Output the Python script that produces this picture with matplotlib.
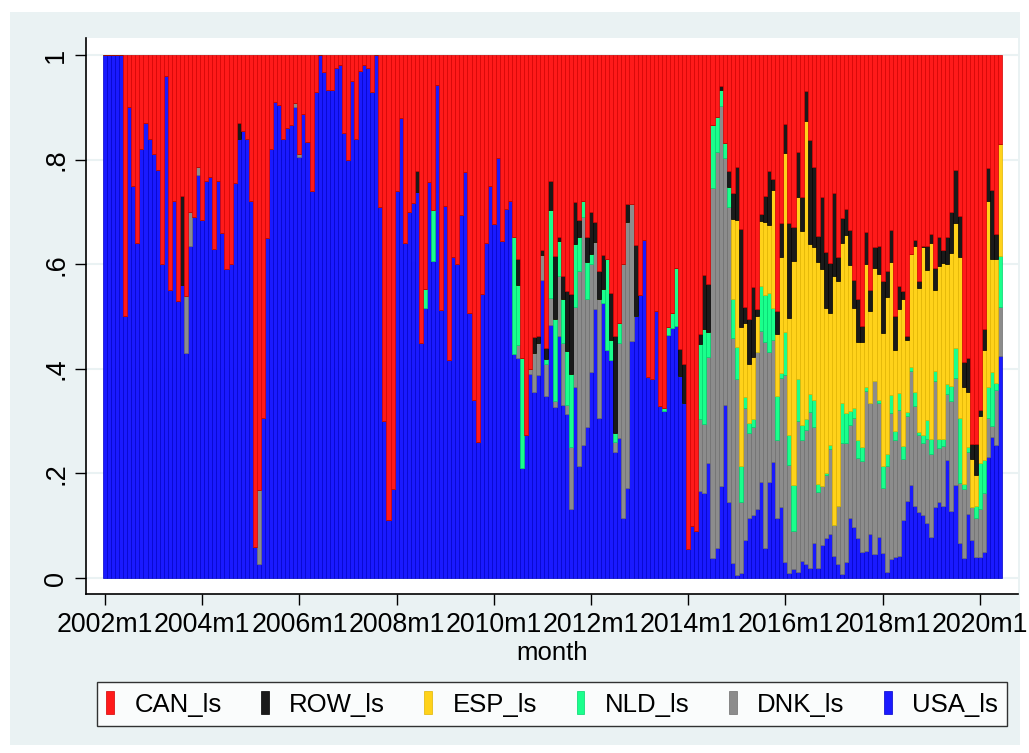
import numpy as np
import matplotlib.pyplot as plt
from matplotlib.patches import Rectangle

# --- upper edge of each stacked band (cumulative share), 2002m1 .. 2020m6 --- #
# one row per year; CAN fills the rest up to 1
usa_cum = [
    1.0, 1.0, 1.0, 1.0, 1.0, 0.50, 0.90, 0.75, 0.64, 0.82, 0.87, 0.84,
    0.81, 0.78, 0.60, 0.96, 0.55, 0.72, 0.53, 0.56, 0.43, 0.635, 0.69, 0.77,
    0.685, 0.76, 0.766, 0.63, 0.76, 0.66, 0.59, 0.60, 0.755, 0.84, 0.854, 0.84,
    0.72, 0.06, 0.027, 0.306, 0.65, 0.82, 0.91, 0.905, 0.84, 0.86, 0.866, 0.90,
    0.805, 0.888, 0.833, 0.74, 0.93, 1.0, 0.968, 0.933, 0.933, 0.976, 0.98, 0.85,
    0.80, 0.95, 0.84, 0.97, 0.98, 0.976, 0.93, 1.0, 0.71, 0.30, 0.11, 0.17,
    0.74, 0.88, 0.64, 0.70, 0.717, 0.739, 0.45, 0.516, 0.757, 0.607, 0.942, 0.513,
    0.712, 0.417, 0.613, 0.60, 0.694, 0.776, 0.507, 0.34, 0.26, 0.543, 0.64, 0.75,
    0.676, 0.804, 0.645, 0.706, 0.72, 0.429, 0.42, 0.21, 0.273, 0.39, 0.356, 0.388,
    0.57, 0.348, 0.484, 0.327, 0.463, 0.33, 0.314, 0.132, 0.366, 0.214, 0.255, 0.288,
    0.394, 0.515, 0.306, 0.526, 0.435, 0.416, 0.24, 0.267, 0.114, 0.172, 0.454, 0.50,
    0.542, 0.647, 0.385, 0.38, 0.51, 0.328, 0.32, 0.464, 0.478, 0.482, 0.387, 0.335,
    0.056, 0.10, 0.09, 0.166, 0.163, 0.22, 0.038, 0.058, 0.176, 0.33, 0.145, 0.029,
    0.005, 0.009, 0.073, 0.114, 0.12, 0.132, 0.183, 0.057, 0.183, 0.222, 0.115, 0.136,
    0.03, 0.01, 0.017, 0.011, 0.032, 0.027, 0.02, 0.066, 0.02, 0.063, 0.077, 0.084,
    0.042, 0.027, 0.007, 0.03, 0.115, 0.097, 0.076, 0.049, 0.051, 0.084, 0.046, 0.078,
    0.047, 0.012, 0.036, 0.04, 0.042, 0.11, 0.148, 0.177, 0.138, 0.126, 0.12, 0.106,
    0.079, 0.136, 0.145, 0.138, 0.226, 0.128, 0.177, 0.066, 0.039, 0.122, 0.073, 0.041,
    0.041, 0.049, 0.232, 0.269, 0.254, 0.425,
]

dnk_cum = [
    1.0, 1.0, 1.0, 1.0, 1.0, 0.50, 0.90, 0.75, 0.64, 0.82, 0.87, 0.84,
    0.81, 0.78, 0.60, 0.96, 0.55, 0.72, 0.53, 0.56, 0.54, 0.70, 0.69, 0.785,
    0.685, 0.76, 0.766, 0.63, 0.76, 0.66, 0.59, 0.60, 0.755, 0.84, 0.854, 0.84,
    0.72, 0.06, 0.168, 0.306, 0.65, 0.82, 0.91, 0.905, 0.84, 0.86, 0.866, 0.909,
    0.81, 0.888, 0.833, 0.74, 0.93, 1.0, 0.968, 0.933, 0.933, 0.976, 0.98, 0.85,
    0.80, 0.95, 0.84, 0.97, 0.98, 0.976, 0.93, 1.0, 0.71, 0.30, 0.11, 0.17,
    0.74, 0.88, 0.64, 0.70, 0.717, 0.739, 0.45, 0.516, 0.757, 0.607, 0.942, 0.513,
    0.712, 0.417, 0.613, 0.60, 0.694, 0.776, 0.507, 0.34, 0.26, 0.543, 0.64, 0.75,
    0.676, 0.804, 0.645, 0.706, 0.72, 0.429, 0.446, 0.21, 0.273, 0.40, 0.43, 0.449,
    0.618, 0.41, 0.535, 0.338, 0.578, 0.45, 0.33, 0.25, 0.518, 0.587, 0.69, 0.534,
    0.60, 0.642, 0.534, 0.526, 0.435, 0.416, 0.26, 0.45, 0.60, 0.68, 0.716, 0.50,
    0.542, 0.647, 0.385, 0.38, 0.51, 0.328, 0.32, 0.464, 0.478, 0.482, 0.387, 0.335,
    0.056, 0.10, 0.09, 0.304, 0.294, 0.423, 0.745, 0.814, 0.903, 0.804, 0.709, 0.458,
    0.38, 0.145, 0.326, 0.278, 0.289, 0.433, 0.472, 0.452, 0.433, 0.456, 0.264, 0.383,
    0.388, 0.217, 0.09, 0.301, 0.264, 0.283, 0.318, 0.288, 0.165, 0.175, 0.197, 0.247,
    0.101, 0.138, 0.259, 0.259, 0.293, 0.306, 0.23, 0.224, 0.358, 0.335, 0.377, 0.335,
    0.172, 0.215, 0.316, 0.263, 0.321, 0.227, 0.31, 0.396, 0.328, 0.273, 0.259, 0.265,
    0.237, 0.376, 0.249, 0.253, 0.351, 0.339, 0.383, 0.182, 0.17, 0.24, 0.136, 0.115,
    0.131, 0.162, 0.306, 0.29, 0.36, 0.519,
]

nld_cum = [
    1.0, 1.0, 1.0, 1.0, 1.0, 0.50, 0.90, 0.75, 0.64, 0.82, 0.87, 0.84,
    0.81, 0.78, 0.60, 0.96, 0.55, 0.72, 0.53, 0.56, 0.54, 0.70, 0.69, 0.785,
    0.685, 0.76, 0.766, 0.63, 0.76, 0.66, 0.59, 0.60, 0.755, 0.84, 0.854, 0.84,
    0.72, 0.06, 0.168, 0.306, 0.65, 0.82, 0.91, 0.905, 0.84, 0.86, 0.866, 0.909,
    0.81, 0.888, 0.833, 0.74, 0.93, 1.0, 0.968, 0.933, 0.933, 0.976, 0.98, 0.85,
    0.80, 0.95, 0.84, 0.97, 0.98, 0.976, 0.93, 1.0, 0.71, 0.30, 0.11, 0.17,
    0.74, 0.88, 0.64, 0.70, 0.717, 0.739, 0.45, 0.553, 0.757, 0.703, 0.942, 0.513,
    0.712, 0.417, 0.613, 0.60, 0.694, 0.776, 0.507, 0.34, 0.26, 0.543, 0.64, 0.75,
    0.676, 0.804, 0.645, 0.706, 0.72, 0.652, 0.56, 0.42, 0.273, 0.40, 0.43, 0.449,
    0.618, 0.419, 0.704, 0.496, 0.645, 0.534, 0.434, 0.39, 0.638, 0.652, 0.72, 0.605,
    0.62, 0.642, 0.534, 0.552, 0.61, 0.455, 0.278, 0.487, 0.60, 0.68, 0.716, 0.50,
    0.542, 0.647, 0.385, 0.38, 0.51, 0.328, 0.325, 0.48, 0.507, 0.592, 0.387, 0.335,
    0.056, 0.10, 0.09, 0.448, 0.477, 0.471, 0.867, 0.881, 0.934, 0.832, 0.747, 0.534,
    0.442, 0.215, 0.346, 0.296, 0.304, 0.433, 0.558, 0.541, 0.545, 0.516, 0.348, 0.392,
    0.47, 0.274, 0.177, 0.38, 0.293, 0.304, 0.351, 0.341, 0.18, 0.175, 0.20, 0.254,
    0.101, 0.138, 0.335, 0.315, 0.319, 0.325, 0.263, 0.25, 0.365, 0.335, 0.377, 0.341,
    0.215, 0.237, 0.349, 0.281, 0.354, 0.253, 0.317, 0.404, 0.356, 0.279, 0.273, 0.303,
    0.265, 0.395, 0.266, 0.265, 0.37, 0.368, 0.44, 0.306, 0.18, 0.251, 0.136, 0.138,
    0.22, 0.225, 0.366, 0.393, 0.372, 0.616,
]

esp_cum = [
    1.0, 1.0, 1.0, 1.0, 1.0, 0.50, 0.90, 0.75, 0.64, 0.82, 0.87, 0.84,
    0.81, 0.78, 0.60, 0.96, 0.55, 0.72, 0.53, 0.56, 0.54, 0.70, 0.69, 0.785,
    0.685, 0.76, 0.766, 0.63, 0.76, 0.66, 0.59, 0.60, 0.755, 0.84, 0.854, 0.84,
    0.72, 0.06, 0.168, 0.306, 0.65, 0.82, 0.91, 0.905, 0.84, 0.86, 0.866, 0.909,
    0.81, 0.888, 0.833, 0.74, 0.93, 1.0, 0.968, 0.933, 0.933, 0.976, 0.98, 0.85,
    0.80, 0.95, 0.84, 0.97, 0.98, 0.976, 0.93, 1.0, 0.71, 0.30, 0.11, 0.17,
    0.74, 0.88, 0.64, 0.70, 0.717, 0.739, 0.45, 0.553, 0.757, 0.703, 0.942, 0.513,
    0.712, 0.417, 0.613, 0.60, 0.694, 0.776, 0.507, 0.34, 0.26, 0.543, 0.64, 0.75,
    0.676, 0.804, 0.645, 0.706, 0.72, 0.652, 0.56, 0.42, 0.273, 0.40, 0.43, 0.449,
    0.618, 0.419, 0.704, 0.496, 0.645, 0.534, 0.434, 0.39, 0.638, 0.652, 0.72, 0.605,
    0.62, 0.642, 0.534, 0.552, 0.61, 0.455, 0.278, 0.487, 0.60, 0.68, 0.716, 0.50,
    0.542, 0.647, 0.385, 0.38, 0.51, 0.328, 0.325, 0.48, 0.507, 0.592, 0.387, 0.335,
    0.056, 0.10, 0.09, 0.448, 0.477, 0.471, 0.867, 0.881, 0.934, 0.832, 0.747, 0.686,
    0.685, 0.48, 0.487, 0.41, 0.423, 0.50, 0.682, 0.68, 0.675, 0.741, 0.466, 0.613,
    0.812, 0.498, 0.607, 0.728, 0.663, 0.873, 0.638, 0.632, 0.605, 0.59, 0.516, 0.507,
    0.577, 0.567, 0.64, 0.655, 0.598, 0.517, 0.452, 0.452, 0.601, 0.511, 0.592, 0.581,
    0.469, 0.538, 0.605, 0.435, 0.514, 0.534, 0.456, 0.62, 0.634, 0.554, 0.632, 0.589,
    0.64, 0.55, 0.597, 0.603, 0.60, 0.622, 0.679, 0.613, 0.366, 0.355, 0.227, 0.197,
    0.31, 0.435, 0.721, 0.609, 0.609, 0.83,
]

row_cum = [
    1.0, 1.0, 1.0, 1.0, 1.0, 0.50, 0.90, 0.75, 0.64, 0.82, 0.87, 0.84,
    0.81, 0.78, 0.60, 0.96, 0.55, 0.72, 0.53, 0.73, 0.54, 0.70, 0.69, 0.785,
    0.685, 0.76, 0.766, 0.63, 0.76, 0.66, 0.59, 0.60, 0.755, 0.87, 0.854, 0.84,
    0.72, 0.06, 0.168, 0.306, 0.65, 0.82, 0.91, 0.905, 0.84, 0.86, 0.866, 0.909,
    0.81, 0.888, 0.833, 0.74, 0.93, 1.0, 0.968, 0.933, 0.933, 0.976, 0.98, 0.85,
    0.80, 0.95, 0.84, 0.97, 0.98, 0.976, 0.93, 1.0, 0.71, 0.30, 0.11, 0.17,
    0.74, 0.88, 0.64, 0.70, 0.717, 0.778, 0.45, 0.553, 0.757, 0.703, 0.942, 0.513,
    0.712, 0.417, 0.613, 0.60, 0.694, 0.776, 0.507, 0.34, 0.26, 0.543, 0.64, 0.75,
    0.676, 0.804, 0.645, 0.706, 0.72, 0.652, 0.61, 0.42, 0.273, 0.40, 0.46, 0.463,
    0.628, 0.44, 0.76, 0.616, 0.652, 0.578, 0.548, 0.543, 0.718, 0.685, 0.72, 0.652,
    0.70, 0.68, 0.587, 0.618, 0.61, 0.545, 0.462, 0.487, 0.60, 0.716, 0.716, 0.636,
    0.542, 0.647, 0.385, 0.38, 0.51, 0.328, 0.325, 0.48, 0.507, 0.592, 0.437, 0.409,
    0.056, 0.10, 0.09, 0.467, 0.58, 0.562, 0.867, 0.881, 0.94, 0.832, 0.778, 0.737,
    0.786, 0.667, 0.518, 0.496, 0.556, 0.515, 0.696, 0.731, 0.778, 0.763, 0.51, 0.679,
    0.869, 0.679, 0.671, 0.814, 0.728, 0.931, 0.837, 0.786, 0.654, 0.728, 0.624, 0.602,
    0.737, 0.614, 0.689, 0.706, 0.665, 0.57, 0.533, 0.482, 0.661, 0.55, 0.632, 0.634,
    0.568, 0.587, 0.665, 0.50, 0.559, 0.548, 0.462, 0.62, 0.646, 0.567, 0.635, 0.634,
    0.657, 0.593, 0.652, 0.628, 0.652, 0.699, 0.781, 0.692, 0.413, 0.42, 0.256, 0.256,
    0.321, 0.476, 0.783, 0.741, 0.657, 0.83,
]

series_names = ["USA_ls", "DNK_ls", "NLD_ls", "ESP_ls", "ROW_ls", "CAN_ls"]
tick_labels = ["2002m1", "2004m1", "2006m1", "2008m1", "2010m1",
               "2012m1", "2014m1", "2016m1", "2018m1", "2020m1"]
ytick_vals = [0, 0.2, 0.4, 0.6, 0.8, 1]
ytick_labels = ["0", ".2", ".4", ".6", ".8", "1"]

fills = ["#1a1aff", "#8c8c8c", "#1aff8c", "#ffd21a", "#1a1a1a", "#ff1a1a"]
edges = ["#0000c8", "#6e6e6e", "#00d46e", "#e0b400", "#000000", "#d20000"]

bg = "#eaf2f3"
plt.rcParams['font.family'] = ['Liberation Sans', 'DejaVu Sans']

# --- stack ---
n = len(usa_cum)
months = np.arange(n)
tops = np.vstack([usa_cum, dnk_cum, nld_cum, esp_cum, row_cum, np.ones(n)])
bottoms = np.vstack([np.zeros(n), tops[:-1]])
heights = np.maximum(tops - bottoms, 0)

fig = plt.figure(figsize=(10.29, 7.53), dpi=100, facecolor="white")
fig.patches.append(Rectangle((10 / 1029, 8 / 753), 1010 / 1029, 733 / 753,
                             transform=fig.transFigure, facecolor=bg,
                             edgecolor="none", zorder=-10))

ax = fig.add_axes([86 / 1029, 1 - 594 / 753, 932 / 1029, 556 / 753])
ax.set_facecolor("white")

handles = []
for k in range(6):
    h = ax.bar(months, heights[k], bottom=bottoms[k], width=1.0,
               color=fills[k], edgecolor=edges[k], linewidth=0.5,
               label=series_names[k], zorder=2)
    handles.append(h)

ax.set_xlim((86 - 105) / 4.05, (1018 - 105) / 4.05)
ax.set_ylim(-(594 - 578) / 523, 1 + (55 - 38) / 523)

ax.set_xticks(months[::24])
ax.set_xticklabels(tick_labels, fontsize=19.3)
ax.set_yticks(ytick_vals)
ax.set_yticklabels(ytick_labels, fontsize=19.5, rotation=90, va="center")
ax.tick_params(axis="both", length=8, width=1.0, color="black")
ax.tick_params(axis="x", pad=5)
ax.tick_params(axis="y", pad=4)
ax.yaxis.grid(True, color=bg, linewidth=1.5, zorder=0)
ax.set_axisbelow(True)

for side in ["top", "right"]:
    ax.spines[side].set_visible(False)
for side in ["left", "bottom"]:
    ax.spines[side].set_linewidth(1.2)

ax.set_xlabel("month", fontsize=18.5, labelpad=2)

order = [5, 4, 3, 2, 1, 0]
leg = fig.legend([handles[k] for k in order], [series_names[k] for k in order],
                 loc="center", ncol=6, mode="expand",
                 bbox_to_anchor=(97 / 1029, 1 - 728 / 753, 910 / 1029, 48 / 753),
                 fontsize=18.5, frameon=True, fancybox=False,
                 handlelength=0.3, handleheight=1.0, handletextpad=0.8,
                 borderaxespad=0, borderpad=0.35)
leg.get_frame().set_edgecolor("black")
leg.get_frame().set_linewidth(1.0)

fig.savefig("out.png", dpi=100, facecolor=fig.get_facecolor())
